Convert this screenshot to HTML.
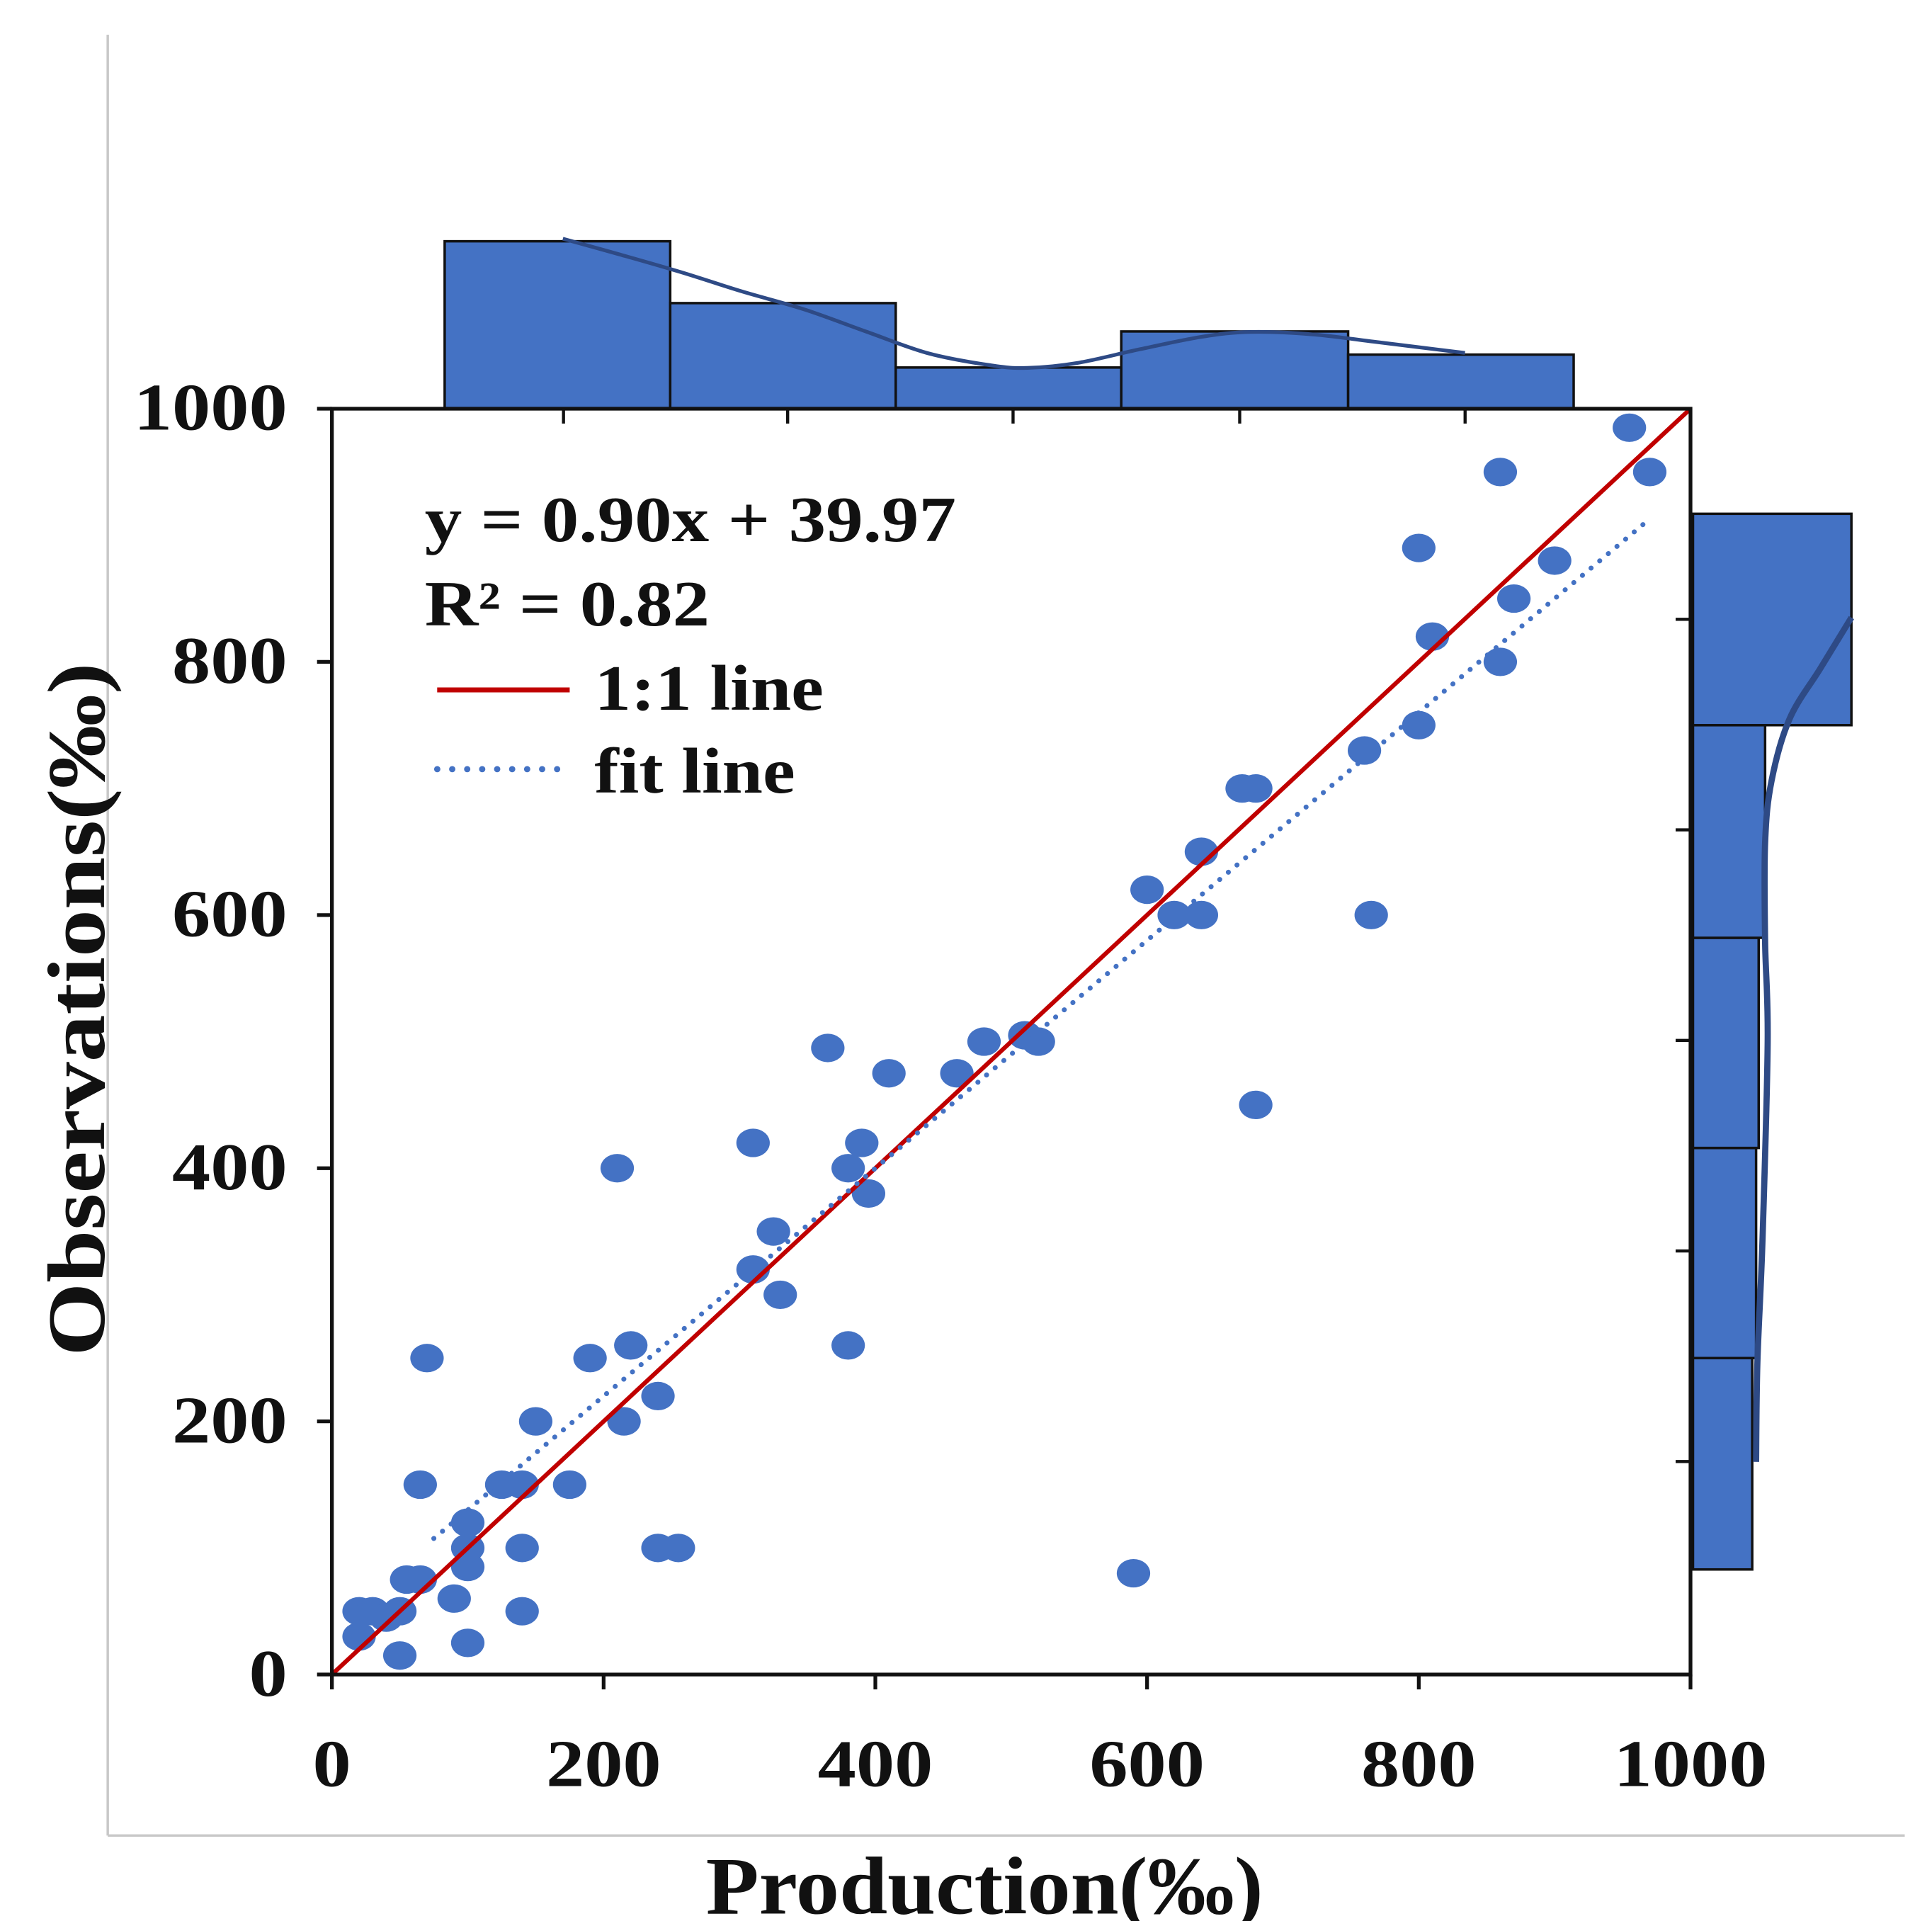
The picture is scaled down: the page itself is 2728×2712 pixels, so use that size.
<!DOCTYPE html>
<html><head><meta charset="utf-8"><style>html,body{margin:0;padding:0;background:#fff}svg{display:block}text{font-family:"Liberation Serif",serif;font-weight:bold;fill:#111}</style></head>
<body>
<svg id="chart" width="2728" height="2712" viewBox="0 0 1560 1551" preserveAspectRatio="none" xmlns="http://www.w3.org/2000/svg">
<line x1="87" y1="28" x2="87" y2="1482" stroke="#c8c8c8" stroke-width="2"/>
<line x1="87" y1="1482" x2="1538" y2="1482" stroke="#c8c8c8" stroke-width="2"/>
<g id="topHist"></g>
<g id="rightHist"></g>
<g id="plot"></g>
<g id="legend">
<text x="343" y="437" font-size="52" textLength="429" lengthAdjust="spacingAndGlyphs">y = 0.90x + 39.97</text>
<text x="343" y="505" font-size="52" textLength="230" lengthAdjust="spacingAndGlyphs">R² = 0.82</text>
<line x1="353" y1="557" x2="460" y2="557" stroke="#c00000" stroke-width="4"/>
<text x="480" y="573" font-size="52" textLength="185" lengthAdjust="spacingAndGlyphs">1:1 line</text>
<line x1="353" y1="621" x2="460" y2="621" stroke="#4472c4" stroke-width="5" stroke-dasharray="0.1,12" stroke-linecap="round"/>
<text x="480" y="640" font-size="52" textLength="162" lengthAdjust="spacingAndGlyphs">fit line</text>
</g>
<text x="570" y="1545" font-size="66" textLength="450" lengthAdjust="spacingAndGlyphs">Production(‰)</text>
<text x="0" y="0" font-size="66" textLength="560" lengthAdjust="spacingAndGlyphs" transform="translate(84,1095) rotate(-90)">Observations(‰)</text>
</svg>
<script>
const xTicks=[0,200,400,600,800,1000];
const yTicks=[0,200,400,600,800,1000];
const ptsX=[20,20,30,40,50,50,55,65,65,70,90,100,100,100,100,125,140,140,140,150,175,190,210,215,220,240,240,255,310,310,325,330,365,380,380,390,395,410,460,480,510,520,590,600,620,640,640,670,680,680,760,765,800,800,810,860,860,870,900,955,970];
const ptsY=[30,50,50,45,50,15,75,75,150,250,60,25,85,100,120,150,150,100,50,200,150,250,400,200,260,220,100,100,320,420,350,300,495,400,260,420,380,475,475,500,505,500,80,620,600,600,650,700,700,450,730,600,750,890,820,950,800,850,880,985,950];
const fitSlope=0.90, fitIntercept=39.97;
const topBinEdges=[83,249,415,581,748,914];
const topCounts=[13,8.2,3.2,6,4.2];
const topKdeX=[170,211,257,302,348,394,439,485,512,549,594,640,676,722,768,834];
const topKdeY=[13.2,12.0,10.6,9.1,7.7,5.96,4.3,3.37,3.17,3.56,4.6,5.58,5.96,5.77,5.19,4.33];
const rightBinEdges=[83,250,416,582,750,917];
const rightCounts=[4.6,4.9,5.1,5.6,12.3];
const rightKdeY=[168,246,344,500,579,657,706,755,795,835];
const rightKdeV=[4.9,5.0,5.4,5.8,5.6,5.6,6.1,7.5,9.9,12.3];

const X0=268,X1=1365,Y0=1352,Y1=330;
const sx=v=>X0+(X1-X0)*v/1000;
const sy=v=>Y0-(Y0-Y1)*v/1000;
const hTop=c=>330-10.4*c;
const hRight=c=>1367+10.4*c;
const NS='http://www.w3.org/2000/svg';
function mk(t,a,p){const e=document.createElementNS(NS,t);for(const k in a)e.setAttribute(k,a[k]);p.appendChild(e);return e;}
function smooth(pts){let d='M'+pts[0][0]+','+pts[0][1];for(let i=0;i<pts.length-1;i++){const p0=pts[Math.max(0,i-1)],p1=pts[i],p2=pts[i+1],p3=pts[Math.min(pts.length-1,i+2)];const c1=[p1[0]+(p2[0]-p0[0])/6,p1[1]+(p2[1]-p0[1])/6],c2=[p2[0]-(p3[0]-p1[0])/6,p2[1]-(p3[1]-p1[1])/6];d+='C'+c1+' '+c2+' '+p2;}return d;}
const plot=document.getElementById('plot'),top_=document.getElementById('topHist'),right=document.getElementById('rightHist');

topCounts.forEach((c,i)=>{
 const r=mk('rect',{x:sx(topBinEdges[i]),y:hTop(c),width:sx(topBinEdges[i+1])-sx(topBinEdges[i]),height:330-hTop(c),fill:'#4472c4',stroke:'#111','stroke-width':2},top_);
 
 
});
const tk=mk('path',{d:smooth(topKdeX.map((x,i)=>[sx(x),hTop(topKdeY[i])])),fill:'none',stroke:'#2e4a85','stroke-width':3},top_);



rightCounts.forEach((c,i)=>{
 const y1=sy(rightBinEdges[i+1]),y0=sy(rightBinEdges[i]);
 const r=mk('rect',{x:1367,y:y1,width:hRight(c)-1367,height:y0-y1,fill:'#4472c4',stroke:'#111','stroke-width':2},right);
 
 
});
const rk=mk('path',{d:smooth(rightKdeY.map((y,i)=>[hRight(rightKdeV[i]),sy(y)])),fill:'none',stroke:'#2e4a85','stroke-width':5,'stroke-linejoin':'round'},right);



const bg=mk('rect',{x:X0,y:Y1,width:X1-X0,height:Y0-Y1,fill:'#fff',stroke:'none'},plot);



ptsX.forEach((x,i)=>{
 const e=mk('ellipse',{cx:sx(x),cy:sy(ptsY[i]),rx:13.5,ry:11.5,fill:'#4472c4'},plot);
 
 
});
const l1=mk('line',{x1:sx(0),y1:sy(0),x2:sx(1000),y2:sy(1000),stroke:'#c00000','stroke-width':3.5},plot);


const fx0=75,fx1=970;
const fl=mk('line',{x1:sx(fx0),y1:sy(fitSlope*fx0+fitIntercept),x2:sx(fx1),y2:sy(fitSlope*fx1+fitIntercept),stroke:'#4472c4','stroke-width':4,'stroke-dasharray':'0.1,9','stroke-linecap':'round'},plot);



const fr=mk('rect',{x:X0,y:Y1,width:X1-X0,height:Y0-Y1,fill:'none',stroke:'#111','stroke-width':3},plot);



xTicks.forEach(v=>{
 const t=mk('line',{x1:sx(v),y1:Y0,x2:sx(v),y2:Y0+12,stroke:'#111','stroke-width':3},plot);
 
 
 const s=String(v),w=s.length*31;
 const l=mk('text',{x:sx(v)-w/2,y:1442,'font-size':54,textLength:w,lengthAdjust:'spacingAndGlyphs'},plot);l.textContent=s;
 
 
});
yTicks.forEach(v=>{
 const t=mk('line',{x1:X0-12,y1:sy(v),x2:X0,y2:sy(v),stroke:'#111','stroke-width':3},plot);
 
 
 const s=String(v),w=s.length*31;
 const l=mk('text',{x:232-w,y:sy(v)+17,'font-size':54,textLength:w,lengthAdjust:'spacingAndGlyphs'},plot);l.textContent=s;
 
 
});
[455,636,818,1001,1183].forEach(x=>{
 const t=mk('line',{x1:x,y1:Y1,x2:x,y2:Y1+12,stroke:'#111','stroke-width':2.5},plot);
 
 
});
[500,670,840,1010,1180].forEach(y=>{
 const t=mk('line',{x1:X1,y1:y,x2:X1-12,y2:y,stroke:'#111','stroke-width':2.5},plot);
 
 
});
</script>
</body></html>
